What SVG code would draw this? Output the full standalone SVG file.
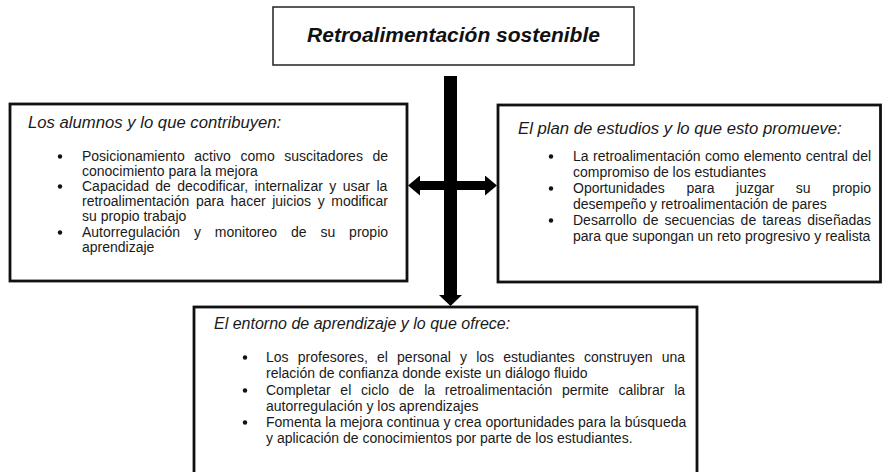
<svg xmlns="http://www.w3.org/2000/svg" width="882" height="472" viewBox="0 0 882 472">
  <defs>
    <style>
      .box { fill: #ffffff; stroke: #111111; stroke-width: 2.8; }
      .tbox { fill: #ffffff; stroke: #222222; stroke-width: 1.5; }
      .title { font-family: "Liberation Sans", Arial, sans-serif; font-size: 21px; font-weight: bold; font-style: italic; fill: #111111; text-anchor: middle; }
      .head { font-family: "Liberation Sans", Arial, sans-serif; font-size: 16.7px; font-style: italic; fill: #1a1a1a; }
      .head2 { font-family: "Liberation Sans", Arial, sans-serif; font-size: 16px; font-style: italic; fill: #1a1a1a; }
      .item { font-family: "Liberation Sans", Arial, sans-serif; font-size: 14px; fill: #1a1a1a; }
      .dot { fill: #111111; }
      .bar { stroke: #000000; fill: none; stroke-linecap: butt; }
    </style>
    <marker id="ah" viewBox="0 0 12 20" refX="0" refY="10" markerWidth="12" markerHeight="20" markerUnits="userSpaceOnUse" orient="auto-start-reverse">
      <path d="M0,0 L12,10 L0,20 z" fill="#000000"/>
    </marker>
    <marker id="ahd" viewBox="0 0 11 23" refX="0" refY="11.5" markerWidth="11" markerHeight="23" markerUnits="userSpaceOnUse" orient="auto">
      <path d="M0,0 L11,11.5 L0,23 z" fill="#000000"/>
    </marker>
  </defs>

  <rect width="882" height="472" fill="#ffffff"/>

  <g id="connectors">
    <line class="bar" x1="450.5" y1="76" x2="450.5" y2="295" stroke-width="13" marker-end="url(#ahd)"/>
    <line class="bar" x1="420" y1="185.5" x2="485" y2="185.5" stroke-width="9" marker-start="url(#ah)" marker-end="url(#ah)"/>
  </g>

  <g id="node-title">
    <rect class="tbox" x="273" y="7" width="361" height="58"/>
    <text class="title" x="453.5" y="42">Retroalimentación sostenible</text>
  </g>

  <g id="node-alumnos">
    <rect class="box" x="10" y="104" width="397" height="177"/>
    <text class="head" x="28" y="128">Los alumnos y lo que contribuyen:</text>
    <circle class="dot" cx="60" cy="156.5" r="2.2"/>
    <circle class="dot" cx="60" cy="186.5" r="2.2"/>
    <circle class="dot" cx="60" cy="232.5" r="2.2"/>
    <text class="item" x="82" y="161" word-spacing="5.7">Posicionamiento activo como suscitadores de</text>
    <text class="item" x="82" y="176">conocimiento para la mejora</text>
    <text class="item" x="82" y="191" word-spacing="2.5">Capacidad de decodificar, internalizar y usar la</text>
    <text class="item" x="82" y="206" word-spacing="2.69">retroalimentación para hacer juicios y modificar</text>
    <text class="item" x="82" y="221">su propio trabajo</text>
    <text class="item" x="82" y="237" word-spacing="10">Autorregulación y monitoreo de su propio</text>
    <text class="item" x="82" y="252">aprendizaje</text>
  </g>

  <g id="node-plan">
    <rect class="box" x="498" y="105" width="382.5" height="177"/>
    <text class="head" x="518" y="134">El plan de estudios y lo que esto promueve:</text>
    <circle class="dot" cx="551" cy="156.5" r="2.2"/>
    <circle class="dot" cx="551" cy="188.5" r="2.2"/>
    <circle class="dot" cx="551" cy="220.5" r="2.2"/>
    <text class="item" x="573" y="161" word-spacing="0.62">La retroalimentación como elemento central del</text>
    <text class="item" x="573" y="177">compromiso de los estudiantes</text>
    <text class="item" x="573" y="193" word-spacing="17.7">Oportunidades para juzgar su propio</text>
    <text class="item" x="573" y="209">desempeño y retroalimentación de pares</text>
    <text class="item" x="573" y="225" word-spacing="2.17">Desarrollo de secuencias de tareas diseñadas</text>
    <text class="item" x="573" y="241">para que supongan un reto progresivo y realista</text>
  </g>

  <g id="node-entorno">
    <rect class="box" x="194" y="307" width="503" height="180"/>
    <text class="head2" x="214" y="329">El entorno de aprendizaje y lo que ofrece:</text>
    <circle class="dot" cx="245" cy="357.5" r="2.2"/>
    <circle class="dot" cx="245" cy="390.5" r="2.2"/>
    <circle class="dot" cx="245" cy="422.5" r="2.2"/>
    <text class="item" x="266" y="362" word-spacing="5.3">Los profesores, el personal y los estudiantes construyen una</text>
    <text class="item" x="266" y="378">relación de confianza donde existe un diálogo fluido</text>
    <text class="item" x="266" y="395" word-spacing="5.89">Completar el ciclo de la retroalimentación permite calibrar la</text>
    <text class="item" x="266" y="411">autorregulación y los aprendizajes</text>
    <text class="item" x="266" y="427">Fomenta la mejora continua y crea oportunidades para la búsqueda</text>
    <text class="item" x="266" y="443">y aplicación de conocimientos por parte de los estudiantes.</text>
  </g>
</svg>
